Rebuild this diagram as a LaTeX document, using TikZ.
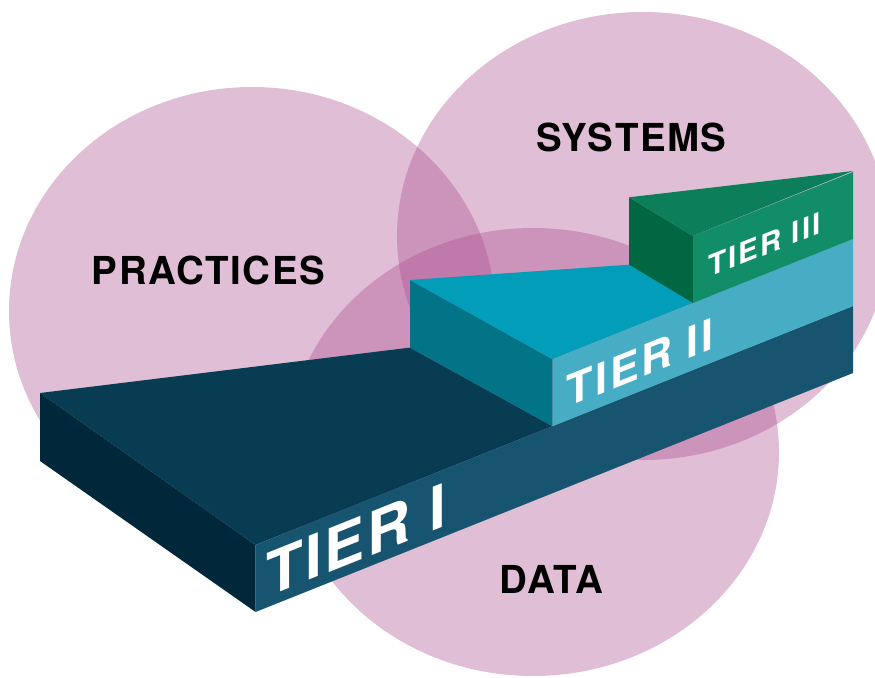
\documentclass[tikz,border=0pt]{standalone}
\usepackage{fontspec}
\setmainfont{TeX Gyre Heros}
\newfontfamily\lblfont[LetterSpace=4]{TeX Gyre Heros}
\newfontfamily\tierfont[LetterSpace=4]{TeX Gyre Heros}
\newfontfamily\tierfontB[LetterSpace=6]{TeX Gyre Heros}
\newfontfamily\tierfontC[LetterSpace=7]{TeX Gyre Heros}
\definecolor{circ}{HTML}{A8488C}
\definecolor{tAtop}{HTML}{083C52}
\definecolor{tAside}{HTML}{01283A}
\definecolor{tAfront}{HTML}{175470}
\definecolor{tBtop}{HTML}{019DB9}
\definecolor{tBside}{HTML}{027487}
\definecolor{tBfront}{HTML}{47ADC4}
\definecolor{tCtop}{HTML}{0C7E5A}
\definecolor{tCside}{HTML}{006743}
\definecolor{tCfront}{HTML}{118E67}
\tikzset{
  venn/.style={fill=circ, fill opacity=0.355, draw=none},
  area/.style={font=\lblfont\bfseries\fontsize{38.5}{40}\selectfont, text=black, inner sep=0pt},
  tierlbl/.style={text=white, inner sep=0pt, anchor=base west, transform shape}
}
\begin{document}
\begin{tikzpicture}[x=1pt,y=-1pt]
\useasboundingbox (0,0) rectangle (875,677);
% circles
\fill[venn] (252,311) ellipse [x radius=243, y radius=224];
\fill[venn] (643,236) ellipse [x radius=246, y radius=224];
\fill[venn] (533,452) ellipse [x radius=246, y radius=224];
% tier I
\fill[tAside] (40,393) -- (255.6,545) -- (255.6,612) -- (40,461) -- cycle;
\fill[tAtop] (40,393) -- (410,347.6) -- (552.5,426.2) -- (255.6,545) -- cycle;
\fill[tAfront] (255.6,545) -- (853,306) -- (853,373) -- (255.6,612) -- cycle;
% tier II
\fill[tBside] (410,280) -- (552.5,359.2) -- (552.5,426.2) -- (410,347.6) -- cycle;
\fill[tBtop] (410,280) -- (629,264.7) -- (693,303) -- (552.5,359.2) -- cycle;
\fill[tBfront] (552.5,359.2) -- (853,239) -- (853,306) -- (552.5,426.2) -- cycle;
% tier III
\fill[tCside] (629,197.3) -- (693,236) -- (693,303) -- (629,264.7) -- cycle;
\fill[tCtop] (629,197.3) -- (853,171) -- (693,236) -- cycle;
\fill[tCfront] (693,236) -- (853,172) -- (853,239) -- (693,303) -- cycle;
% area labels
\node[area] (practices) at (208.5,270) {PRACTICES};
\node[area] (systems) at (631.5,137) {SYSTEMS};
\node[area] (data) at (551,579) {DATA};
% tier labels
\begin{scope}[shift={(255.6,612)}, yslant=0.4]
  \node[tierlbl, font=\tierfont\bfseries\fontsize{60}{60}\selectfont] (t1) at (11,-10) {TIER I};
\end{scope}
\begin{scope}[shift={(552.5,426.2)}, yslant=0.4]
  \node[tierlbl, font=\tierfontB\bfseries\fontsize{43}{43}\selectfont] (t2) at (14,-13) {TIER II};
\end{scope}
\begin{scope}[shift={(693,303)}, yslant=0.4]
  \node[tierlbl, font=\tierfontC\bfseries\fontsize{29.5}{29.5}\selectfont] (t3) at (15,-19) {TIER III};
\end{scope}
\end{tikzpicture}
\end{document}
